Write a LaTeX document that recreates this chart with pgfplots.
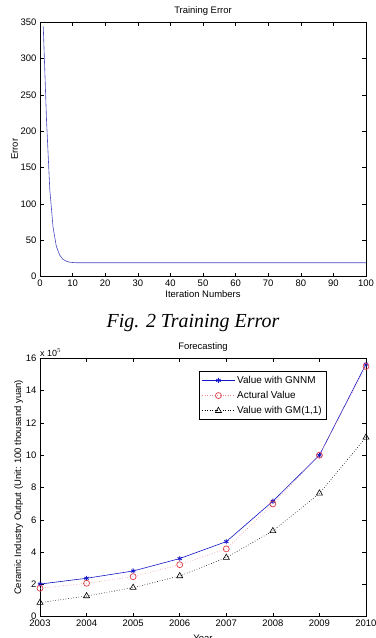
\documentclass[border=0pt]{standalone}
\usepackage{pgfplots}
\pgfplotsset{compat=1.18}
\usepackage{fontspec}
\setmainfont{Liberation Sans}
\newfontfamily\capfont{Liberation Serif}
\definecolor{errblue}{RGB}{70,70,190}
\definecolor{gblue}{RGB}{20,20,200}
\definecolor{cred}{RGB}{220,60,70}
\begin{document}
\begin{tikzpicture}
\path[use as bounding box] (0bp,0bp) rectangle (376bp,638bp);
\pgfplotsset{
  every axis/.append style={
    scale only axis,
    width=326bp,
    tick align=inside,
    major tick length=4bp,
    font=\fontsize{9.5}{11}\selectfont,
    tick label style={font=\fontsize{9.5}{11}\selectfont},
    /pgf/number format/assume math mode=true,
    /pgf/number format/1000 sep={},
    axis line style={line width=0.6pt},
    every tick/.style={line width=0.5pt,black},
    title style={yshift=-3bp},
  }
}
\begin{axis}[
  at={(40bp,361.3bp)}, anchor=south west,
  height=254.7bp,
  xmin=0, xmax=100, ymin=0, ymax=350,
  xtick={0,10,...,100}, ytick={0,50,...,350},
  title={Training Error},
  xlabel={Iteration Numbers},
  ylabel={Error},
  xlabel style={yshift=3bp},
  ylabel style={yshift=-4bp},
]
\addplot[errblue, line width=0.6pt] coordinates {
(1,344) (2,215) (3,120) (4,68) (5,42) (6,30) (7,24) (8,21.5) (9,20) (10,19.5) (11,19.2) (12,19.1) (100,19.1)
};
\end{axis}
\node[anchor=base, font=\capfont\itshape\fontsize{20}{22}\selectfont] at (193bp,310bp) {Fig. 2 Training Error};
\begin{axis}[
  name=fc,
  at={(40bp,21.3bp)}, anchor=south west,
  height=258.4bp,
  xmin=2003, xmax=2010, ymin=0, ymax=16,
  xtick={2003,...,2010}, ytick={0,2,...,16},
  title={Forecasting},
  xlabel={Year},
  ylabel={Ceramic Industry Output (Unit: 100 thousand yuan)},
  xlabel style={yshift=-1bp},
  ylabel style={yshift=-4bp},
  legend style={at={(rel axis cs:0.879,0.95)}, anchor=north east,
    draw=black, line width=0.6pt, font=\fontsize{10}{12}\selectfont,
    row sep=2.5bp, inner sep=2.5bp},
  legend cell align=left,
  legend image code/.code={
    \draw[#1,mark=none] (0bp,0bp) -- (33bp,0bp);
    \draw[#1,only marks] plot coordinates {(16.5bp,0bp)};
  },
]
\addplot[gblue, line width=0.6pt, mark=asterisk, mark size=2.5bp, mark options={line width=0.8pt}] coordinates {
(2003,2.02) (2004,2.38) (2005,2.83) (2006,3.6) (2007,4.65) (2008,7.15) (2009,10.0) (2010,15.64)
};
\addlegendentry{Value with GNNM}
\addplot[cred!60, line width=0.6pt, dotted, mark=o, mark size=3bp, mark options={solid, cred, line width=0.7pt}] coordinates {
(2003,1.76) (2004,2.07) (2005,2.48) (2006,3.22) (2007,4.2) (2008,6.98) (2009,10.0) (2010,15.5)
};
\addlegendentry{Actural Value}
\addplot[black, line width=0.6pt, dotted, mark=triangle, mark size=3.5bp, mark options={solid, black, line width=0.6pt}] coordinates {
(2003,0.87) (2004,1.28) (2005,1.8) (2006,2.52) (2007,3.66) (2008,5.31) (2009,7.64) (2010,11.1)
};
\addlegendentry{Value with GM(1,1)}
\end{axis}
\node[anchor=south west, inner sep=0pt, font=\fontsize{9}{10}\selectfont] at ([yshift=2bp]fc.north west) {x 10$^{\scriptstyle 5}$};
\end{tikzpicture}
\end{document}
